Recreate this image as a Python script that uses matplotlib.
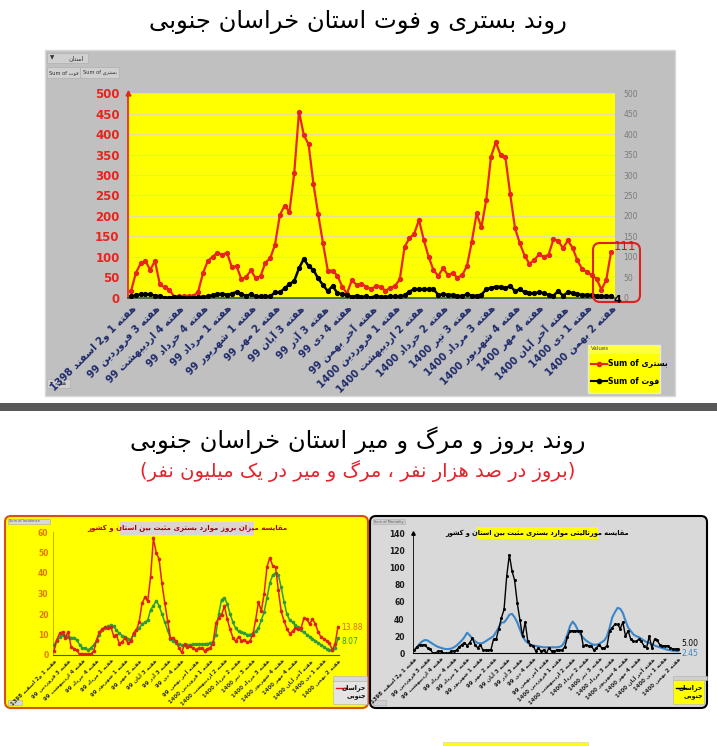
import re
import matplotlib
matplotlib.use("Agg")
import matplotlib.pyplot as plt
from matplotlib.patches import Rectangle, FancyBboxPatch

plt.rcParams['font.family'] = ['DejaVu Sans']

# ---------------- data ----------------
tick_pos = list(range(0, 101, 5))
tick_labels = [
    "هفته 1 و2 اسفند 1398", "هفته 3 فروردین 99", "هفته 4 اردیبهشت 99", "هفته 4 خرداد 99",
    "هفته 1 مرداد 99", "هفته 1 شهریور 99", "هفته 2 مهر 99", "هفته 3 آبان 99",
    "هفته 3 آذر 99", "هفته 4 دی 99", "هفته آخر بهمن 99", "هفته 1 فروردین 1400",
    "هفته 2 اردیبهشت 1400", "هفته 2 خرداد 1400", "هفته 3 تیر 1400", "هفته 3 مرداد 1400",
    "هفته 4 شهریور 1400", "هفته 4 مهر 1400", "هفته آخر آبان 1400", "هفته 1 دی 1400",
    "هفته 2 بهمن 1400",
]

hospitalized = [16, 60, 84, 90, 68, 90, 33, 25, 20, 2,
                3, 3, 4, 4, 15, 60, 90, 100, 110, 105,
                110, 75, 77, 45, 51, 67, 47, 53, 86, 96,
                130, 202, 225, 210, 304, 455, 398, 375, 279, 204,
                133, 66, 66, 54, 27, 10, 43, 31, 34, 27,
                21, 28, 27, 17, 24, 29, 45, 125, 145, 157,
                190, 141, 100, 68, 53, 72, 56, 60, 49, 55,
                78, 137, 206, 172, 239, 345, 380, 349, 343, 253,
                170, 133, 103, 83, 92, 106, 100, 105, 143, 139,
                121, 140, 122, 91, 70, 63, 55, 46, 20, 43,
                111]

deaths = [3, 6, 8, 8, 8, 5, 4, 0, 0, 2,
          2, 0, 0, 0, 2, 2, 3, 6, 8, 10,
          7, 10, 14, 8, 5, 8, 3, 3, 3, 3,
          13, 13, 23, 33, 41, 72, 95, 77, 68, 47,
          31, 16, 29, 11, 8, 7, 2, 5, 2, 3,
          0, 5, 2, 2, 3, 3, 3, 6, 15, 21,
          21, 21, 21, 21, 7, 8, 7, 7, 3, 5,
          8, 5, 5, 7, 21, 24, 27, 27, 23, 29,
          16, 21, 13, 11, 11, 13, 11, 7, 5, 16,
          5, 13, 12, 8, 7, 7, 7, 5, 4, 4,
          4]

incidence_province = [2.0, 7.5, 10.5, 11.3, 8.5, 11.3, 4.1, 3.1, 2.5, 0.3,
                      0.4, 0.4, 0.5, 0.5, 1.9, 7.5, 11.3, 12.5, 13.8, 13.1,
                      13.8, 9.4, 9.6, 5.6, 6.4, 8.4, 5.9, 6.6, 10.8, 12.0,
                      16.3, 25.3, 28.1, 26.3, 38.0, 56.9, 49.8, 46.9, 34.9, 25.5,
                      16.6, 8.3, 8.3, 6.8, 3.4, 1.3, 5.4, 3.9, 4.3, 3.4,
                      2.6, 3.5, 3.4, 2.1, 3.0, 3.6, 5.6, 15.6, 18.1, 19.6,
                      23.8, 17.6, 12.5, 8.5, 6.6, 9.0, 7.0, 7.5, 6.1, 6.9,
                      9.8, 17.1, 25.8, 21.5, 29.9, 43.1, 47.5, 43.6, 42.9, 31.6,
                      21.3, 16.6, 12.9, 10.4, 11.5, 13.3, 12.5, 13.1, 17.9, 17.4,
                      15.1, 17.5, 15.3, 11.4, 8.8, 7.9, 6.9, 5.8, 2.5, 5.4,
                      13.88]

incidence_country = [5, 7, 9, 10, 9.5, 9, 8.5, 8.5, 7.5, 5,
                     3.5, 3.5, 2.5, 3.5, 5, 7, 10, 12, 13, 14,
                     14.5, 14, 12, 10.5, 9.5, 9, 8, 7.5, 10, 12,
                     13, 15, 16, 17, 22, 24, 26.5, 24, 20, 16,
                     12, 8, 7, 6, 5.5, 5, 5.0, 5.0, 5.1, 5.2,
                     5.3, 5.4, 5.5, 5.5, 5.6, 5.8, 6.5, 10, 20, 27,
                     28, 25, 20, 16, 13, 11.5, 11, 10.5, 10, 10,
                     10.5, 11.5, 13, 17, 21, 28, 35, 39, 40, 39,
                     33, 26, 20, 17, 16, 14.5, 13.5, 12, 11, 10,
                     9, 8, 7, 6, 5, 4, 3, 2.5, 2.2, 3.5,
                     8.07]

mortality_province = [3.8, 7.5, 10.0, 10.0, 10.0, 6.3, 5.0, 0.0, 0.0, 2.5,
                      2.5, 0.0, 0.0, 0.0, 2.5, 2.5, 3.8, 7.5, 10.0, 12.5,
                      8.8, 12.5, 17.5, 10.0, 6.3, 10.0, 3.8, 3.8, 3.8, 3.8,
                      16.3, 16.3, 28.8, 41.3, 51.3, 90.0, 115.0, 96.3, 85.0, 58.8,
                      38.8, 20.0, 36.3, 13.8, 10.0, 8.8, 2.5, 6.3, 2.5, 3.8,
                      0.0, 6.3, 2.5, 2.5, 3.8, 3.8, 3.8, 7.5, 18.8, 26.3,
                      26.3, 26.3, 26.3, 26.3, 8.8, 10.0, 8.8, 8.8, 3.8, 6.3,
                      10.0, 6.3, 6.3, 8.8, 26.3, 30.0, 33.8, 33.8, 28.8, 36.3,
                      20.0, 26.3, 16.3, 13.8, 13.8, 16.3, 13.8, 8.8, 6.3, 20.0,
                      6.3, 16.3, 15.0, 10.0, 8.8, 8.8, 8.8, 6.3, 5.0, 5.0,
                      5.0]

mortality_country = [3, 7, 11, 14, 15.5, 15, 13, 11, 9, 7.5,
                     6.5, 5.5, 5, 5, 5.5, 7, 9, 12, 15, 19,
                     24, 21, 17, 14, 12, 11.5, 12, 14, 16, 18,
                     20, 25, 30, 36, 36, 40, 45, 46, 42, 36,
                     28, 20, 15, 12, 10, 9, 8.5, 8, 7.5, 7,
                     7, 7, 7, 7, 7, 7.5, 9, 14, 22, 32,
                     37, 33, 27, 22, 18, 15, 13, 11, 10, 10,
                     11, 13, 15, 20, 30, 42, 48, 53, 52, 47,
                     38, 30, 26, 22, 20, 19, 17, 15, 13, 12,
                     10.5, 9, 8, 7, 6, 5, 4, 3.5, 3, 2.7,
                     2.45]

# ---------------- minimal Persian shaping ----------------
_F = {
    'ا': ('\uFE8D', '\uFE8E', None, None), 'آ': ('\uFE81', '\uFE82', None, None),
    'ب': ('\uFE8F', '\uFE90', '\uFE91', '\uFE92'), 'پ': ('\uFB56', '\uFB57', '\uFB58', '\uFB59'),
    'ت': ('\uFE95', '\uFE96', '\uFE97', '\uFE98'), 'ث': ('\uFE99', '\uFE9A', '\uFE9B', '\uFE9C'),
    'ج': ('\uFE9D', '\uFE9E', '\uFE9F', '\uFEA0'), 'چ': ('\uFB7A', '\uFB7B', '\uFB7C', '\uFB7D'),
    'ح': ('\uFEA1', '\uFEA2', '\uFEA3', '\uFEA4'), 'خ': ('\uFEA5', '\uFEA6', '\uFEA7', '\uFEA8'),
    'د': ('\uFEA9', '\uFEAA', None, None), 'ذ': ('\uFEAB', '\uFEAC', None, None),
    'ر': ('\uFEAD', '\uFEAE', None, None), 'ز': ('\uFEAF', '\uFEB0', None, None),
    'ژ': ('\uFB8A', '\uFB8B', None, None),
    'س': ('\uFEB1', '\uFEB2', '\uFEB3', '\uFEB4'), 'ش': ('\uFEB5', '\uFEB6', '\uFEB7', '\uFEB8'),
    'ص': ('\uFEB9', '\uFEBA', '\uFEBB', '\uFEBC'), 'ض': ('\uFEBD', '\uFEBE', '\uFEBF', '\uFEC0'),
    'ط': ('\uFEC1', '\uFEC2', '\uFEC3', '\uFEC4'), 'ظ': ('\uFEC5', '\uFEC6', '\uFEC7', '\uFEC8'),
    'ع': ('\uFEC9', '\uFECA', '\uFECB', '\uFECC'), 'غ': ('\uFECD', '\uFECE', '\uFECF', '\uFED0'),
    'ف': ('\uFED1', '\uFED2', '\uFED3', '\uFED4'), 'ق': ('\uFED5', '\uFED6', '\uFED7', '\uFED8'),
    'ک': ('\uFB8E', '\uFB8F', '\uFB90', '\uFB91'), 'گ': ('\uFB92', '\uFB93', '\uFB94', '\uFB95'),
    'ل': ('\uFEDD', '\uFEDE', '\uFEDF', '\uFEE0'), 'م': ('\uFEE1', '\uFEE2', '\uFEE3', '\uFEE4'),
    'ن': ('\uFEE5', '\uFEE6', '\uFEE7', '\uFEE8'), 'و': ('\uFEED', '\uFEEE', None, None),
    'ه': ('\uFEE9', '\uFEEA', '\uFEEB', '\uFEEC'), 'ی': ('\uFBFC', '\uFBFD', '\uFBFE', '\uFBFF'),
}


def _shape(s):
    out = []
    for i, c in enumerate(s):
        if c not in _F:
            if c != '\u200c':
                out.append(c)
            continue
        p = s[i - 1] if i > 0 else None
        n = s[i + 1] if i + 1 < len(s) else None
        jp = p in _F and _F[p][2] is not None
        jn = n in _F and _F[c][2] is not None
        iso, fin, ini, med = _F[c]
        out.append(med if (jp and jn) else fin if jp else ini if jn else iso)
    return ''.join(out)


_LTR = r'[0-9A-Za-z.]'


def fa(s):
    s = _shape(s)
    toks = re.findall(_LTR + r'+|[^0-9A-Za-z.]+', s)
    res = []
    for t in reversed(toks):
        if re.match(_LTR, t):
            res.append(t)
        else:
            res.append(t[::-1].translate(str.maketrans('()', ')(')))
    return ''.join(res)


# ---------------- figure ----------------
W, H = 717, 746
fig = plt.figure(figsize=(W / 100, H / 100), dpi=100)
fig.patch.set_facecolor('white')


def px_axes(x0, y0, x1, y1):
    return fig.add_axes([x0 / W, 1 - y1 / H, (x1 - x0) / W, (y1 - y0) / H])


bg = fig.add_axes([0, 0, 1, 1])
bg.set_xlim(0, W); bg.set_ylim(H, 0); bg.axis('off'); bg.set_zorder(-10)
fg = fig.add_axes([0, 0, 1, 1])
fg.set_xlim(0, W); fg.set_ylim(H, 0); fg.axis('off'); fg.set_zorder(10)


def rect(ax, x0, y0, x1, y1, **kw):
    ax.add_patch(Rectangle((x0, y0), x1 - x0, y1 - y0, **kw))


def rrect(ax, x0, y0, x1, y1, r=5, **kw):
    ax.add_patch(FancyBboxPatch((x0, y0), x1 - x0, y1 - y0,
                                boxstyle=f"round,pad=0,rounding_size={r}", **kw))


# ---- titles
bg.text(358, 22, fa("روند بستری و فوت استان خراسان جنوبی"), ha='center', va='center',
        fontsize=17.5, color='black')

# ---- top panel
rect(bg, 45, 50, 675, 396, facecolor='#c0c0c0', edgecolor='#d8d8d8', lw=1)
rect(bg, 47, 53, 88, 63, facecolor='#d0d0d0', edgecolor='#b0b0b0', lw=0.5)
bg.text(50, 58, "▼", fontsize=4, va='center', ha='left', color='#333')
bg.text(84, 58, fa("استان"), fontsize=4.5, va='center', ha='right', color='#333')
rect(bg, 47, 67, 80, 78, facecolor='#d0d0d0', edgecolor='#b0b0b0', lw=0.5)
rect(bg, 80, 67, 119, 78, facecolor='#d0d0d0', edgecolor='#b0b0b0', lw=0.5)
bg.text(63.5, 72.5, "Sum of " + fa("فوت"), fontsize=3.7, va='center', ha='center', color='#333')
bg.text(99.5, 72.5, "Sum of " + fa("بستری"), fontsize=3.7, va='center', ha='center', color='#333')
rect(bg, 47, 379, 70, 388, facecolor='#d0d0d0', edgecolor='#b0b0b0', lw=0.5)
bg.text(58, 383.5, "▾ " + fa("هفته"), fontsize=4.3, va='center', ha='center', color='#333')

ax = px_axes(128, 93.3, 615, 297.7)
ax.set_facecolor('#ffff00')
x = list(range(len(hospitalized)))
ax.set_xlim(-0.625, 100.83)
ax.set_ylim(0, 500)
ax.set_yticks(range(0, 501, 50))
ax.grid(axis='y', color='#e2e29a', lw=0.8)
ax.set_axisbelow(True)
ax.plot(x, hospitalized, color='#e8241c', lw=1.6, marker='o', ms=2.8, zorder=3)
ax.plot(x, deaths, color='black', lw=1.8, marker='o', ms=2.8, zorder=3)
for s in ['top', 'right']:
    ax.spines[s].set_visible(False)
ax.spines['left'].set_color('#e8241c')
ax.spines['left'].set_linewidth(1.2)
ax.spines['bottom'].set_color('#2f5f2f')
ax.spines['bottom'].set_linewidth(1.2)
ax.tick_params(axis='y', length=0, labelsize=8.5, labelcolor='#e8241c', pad=6)
for lb in ax.get_yticklabels():
    lb.set_fontweight('bold')
ax.set_xticks(tick_pos)
ax.set_xticklabels([fa(t) for t in tick_labels], rotation=45, ha='right', va='top',
                   rotation_mode='anchor', fontsize=7.2, fontweight='bold', color='#1f2a6b')
ax.tick_params(axis='x', length=0, pad=4)
ax.plot([-0.625], [500], marker='^', color='#e8241c', ms=3.5, clip_on=False)
ax2 = ax.twinx()
ax2.set_ylim(0, 500)
ax2.set_yticks(range(0, 501, 50))
ax2.tick_params(axis='y', length=0, labelsize=5.5, labelcolor='#7a7a7a', pad=6)
for s in ['top', 'right', 'left', 'bottom']:
    ax2.spines[s].set_visible(False)

# highlight of last point
rrect(fg, 593, 243, 640, 302, r=7, facecolor='none', edgecolor='#e02020', lw=1.5)
fg.text(614, 247, str(hospitalized[-1]), fontsize=8.5, color='#d01818', va='center', ha='left')
fg.text(613, 300, str(deaths[-1]), fontsize=8, color='black', fontweight='bold', va='center', ha='left')

# legend of top chart
rect(bg, 588, 345, 660, 393, facecolor='#ffff00', edgecolor='#e8e8e8', lw=1)
rect(bg, 588, 345, 660, 353, facecolor='#ffff40', edgecolor='#e8e8e8', lw=0.6)
bg.text(591, 349, "Values", fontsize=4, va='center', ha='left', color='#444')
bg.plot([591, 607], [364, 364], color='#e8241c', lw=1.5, marker=None)
bg.plot([599], [364], color='#e8241c', marker='o', ms=3)
bg.text(607.5, 364, "Sum of " + fa("بستری"), fontsize=5.6, fontweight='bold', va='center', ha='left')
bg.plot([591, 607], [381, 381], color='black', lw=1.5)
bg.plot([599], [381], color='black', marker='o', ms=3)
bg.text(607.5, 381, "Sum of " + fa("فوت"), fontsize=5.6, fontweight='bold', va='center', ha='left')

# ---- divider and second titles
rect(bg, 0, 403, W, 411, facecolor='#595959', edgecolor='none')
bg.text(358, 440, fa("روند بروز و مرگ و میر استان خراسان جنوبی"), ha='center', va='center',
        fontsize=17.5, color='black')
bg.text(358, 471, fa("(بروز در صد هزار نفر ، مرگ و میر در یک میلیون نفر)"), ha='center',
        va='center', fontsize=14, color='#e8202a')

# ---- bottom-left panel (incidence)
rrect(bg, 5, 516, 368, 708, r=6, facecolor='#ffff00', edgecolor='#d85018', lw=1.5)
rect(bg, 8, 519, 50, 524, facecolor='#d8d8d8', edgecolor='#aaaaaa', lw=0.4)
bg.text(9, 521.5, "Sum of Incidence", fontsize=2.5, va='center', ha='left', color='#555')
rect(bg, 8, 700, 22, 705, facecolor='#d8d8d8', edgecolor='#aaaaaa', lw=0.4)
rect(bg, 120, 522, 254, 535, facecolor='#dcd4d4', edgecolor='none')
bg.text(187, 528.5, fa("مقایسه میزان بروز موارد بستری مثبت بین استان و کشور"), fontsize=5,
        fontweight='bold', color='#b00000', ha='center', va='center')

axl = px_axes(52.6, 532, 339.4, 655)
axl.set_facecolor('none')
axl.set_xlim(-0.5, 100.5)
axl.set_ylim(0, 60)
axl.plot(x, incidence_country, color='#2f9a40', lw=1.1, marker='o', ms=1.6, zorder=3)
axl.plot(x, incidence_province, color='#e02018', lw=1.1, marker='o', ms=1.6, zorder=4)
axl.set_yticks(range(0, 61, 10))
axl.tick_params(axis='y', length=0, labelsize=5.5, labelcolor='#e07800', pad=3)
for lb in axl.get_yticklabels():
    lb.set_fontweight('bold')
axl.set_xticks(tick_pos)
axl.set_xticklabels([fa(t) for t in tick_labels], rotation=45, ha='right', va='top',
                    rotation_mode='anchor', fontsize=3.9, fontweight='bold', color='#303030')
axl.tick_params(axis='x', length=0, pad=2)
for s in ['top', 'right']:
    axl.spines[s].set_visible(False)
axl.spines['left'].set_color('#b8a000'); axl.spines['left'].set_linewidth(0.6)
axl.spines['bottom'].set_color('#505050'); axl.spines['bottom'].set_linewidth(0.8)
fg.text(341, 627, f"{incidence_province[-1]:.2f}", fontsize=5.5, color='#e07000', va='center', ha='left')
fg.text(341, 642, f"{incidence_country[-1]:.2f}", fontsize=5.5, color='#2f9a40', va='center', ha='left')

rect(bg, 333, 676, 367, 681, facecolor='#d8d8d8', edgecolor='#b0b0b0', lw=0.4)
rect(bg, 333, 681, 367, 704, facecolor='#e4e4e4', edgecolor='#b0b0b0', lw=0.4)
bg.plot([336, 347], [688, 688], color='#e02018', lw=1)
bg.text(366, 688, fa("خراسان"), fontsize=4.5, fontweight='bold', ha='right', va='center')
bg.text(366, 697, fa("جنوبی"), fontsize=4.5, fontweight='bold', ha='right', va='center')

# ---- bottom-right panel (mortality)
rrect(bg, 370, 516, 707, 708, r=6, facecolor='#d9d9d9', edgecolor='black', lw=1.5)
rect(bg, 373, 519, 405, 524, facecolor='#cfcfcf', edgecolor='#aaaaaa', lw=0.4)
bg.text(374, 521.5, "Sum of Mortality", fontsize=2.5, va='center', ha='left', color='#555')
rect(bg, 373, 700, 386, 705, facecolor='#cfcfcf', edgecolor='#aaaaaa', lw=0.4)
rect(bg, 477, 527, 598, 539, facecolor='#ffff00', edgecolor='none')
bg.text(537.5, 533, fa("مقایسه مورتالیتی موارد بستری مثبت بین استان و کشور"), fontsize=4.8,
        fontweight='bold', color='black', ha='center', va='center')

axr = px_axes(413, 533.3, 679.6, 653.3)
axr.set_facecolor('none')
axr.set_xlim(-0.5, 100.5)
axr.set_ylim(0, 140)
axr.plot(x, mortality_country, color='#3a86c8', lw=1.5, zorder=3)
axr.plot(x, mortality_province, color='black', lw=1.0, marker='o', ms=1.2, zorder=4)
axr.set_yticks(range(0, 141, 20))
axr.tick_params(axis='y', length=0, labelsize=5.5, labelcolor='#1a1a1a', pad=6)
for lb in axr.get_yticklabels():
    lb.set_fontweight('bold')
axr.set_xticks(tick_pos)
axr.set_xticklabels([fa(t) for t in tick_labels], rotation=45, ha='right', va='top',
                    rotation_mode='anchor', fontsize=3.9, fontweight='bold', color='#202020')
axr.tick_params(axis='x', length=0, pad=2)
for s in ['top', 'right']:
    axr.spines[s].set_visible(False)
axr.spines['left'].set_color('black'); axr.spines['left'].set_linewidth(0.6)
axr.spines['bottom'].set_color('black'); axr.spines['bottom'].set_linewidth(0.8)
axr.plot([-0.5], [140], marker='^', color='black', ms=2.5, clip_on=False)
fg.text(681, 643, f"{mortality_province[-1]:.2f}", fontsize=5.5, color='black', va='center', ha='left')
fg.text(681, 654, f"{mortality_country[-1]:.2f}", fontsize=5.5, color='#3a86c8', va='center', ha='left')

rect(bg, 673, 676, 707, 680, facecolor='#cfcfcf', edgecolor='#b0b0b0', lw=0.4)
rect(bg, 673, 680, 704, 704, facecolor='#ffff00', edgecolor='#b0b0b0', lw=0.4)
bg.plot([676, 686], [688, 688], color='black', lw=1)
bg.text(703, 688, fa("خراسان"), fontsize=4.5, fontweight='bold', ha='right', va='center')
bg.text(703, 697, fa("جنوبی"), fontsize=4.5, fontweight='bold', ha='right', va='center')

# ---- bottom yellow strip
rect(bg, 443, 742, 588, 747, facecolor='#ffff00', edgecolor='#e0e0a0', lw=0.6)

fig.savefig("out.png", dpi=100)
